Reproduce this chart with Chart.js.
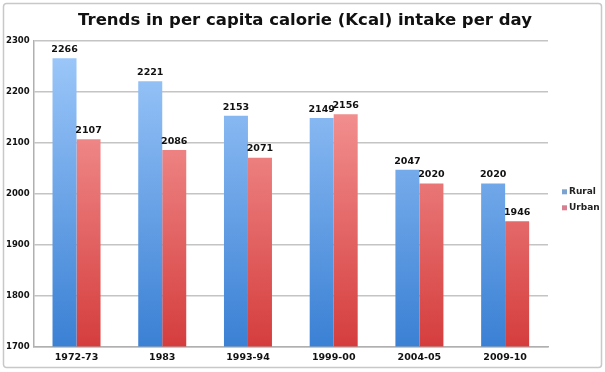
<!DOCTYPE html>
<html>
<head>
<meta charset="utf-8">
<script src="https://cdn.jsdelivr.net/npm/chart.js@4"></script>
<style>
  html, body { margin: 0; padding: 0; background: #fff; }
  #wrap { width: 605px; height: 372px; position: relative; }
</style>
</head>
<body>
<div id="wrap"><canvas id="chart"></canvas></div>
<script>
// data
const periods = ['1972-73', '1983', '1993-94', '1999-00', '2004-05', '2009-10']
const rural = [2266, 2221, 2153, 2149, 2047, 2020]
const urban = [2107, 2086, 2071, 2156, 2020, 1946]
const yTicks = [1700, 1800, 1900, 2000, 2100, 2200, 2300]

const titleText = 'Trends in per capita calorie (Kcal) intake per day'
const font = 'DejaVu Sans'
const legendMarks = ['#7aa3cf', '#d77f8e']

// vertical gradient over the chart area
const grad = (ctx, top, bottom) => {
  const chart = ctx.chart
  const area = chart.chartArea
  if (!area) return bottom
  const g = chart.ctx.createLinearGradient(0, area.top, 0, area.bottom)
  g.addColorStop(0, top)
  g.addColorStop(1, bottom)
  return g
}

// outer frame + title centred on the whole picture
const framePlugin = {
  id: 'frame',
  beforeDraw(chart) {
    const c = chart.ctx
    c.save()
    c.strokeStyle = '#c8c8c8'
    c.lineWidth = 1.5
    c.beginPath()
    c.roundRect(3.5, 3.5, chart.width - 7, chart.height - 8, 3)
    c.stroke()
    c.font = 'bold 16.5px ' + font
    c.fillStyle = '#111'
    c.textAlign = 'center'
    c.textBaseline = 'middle'
    c.fillText(titleText, 305, 21)
    c.restore()
  }
}

// values above bars
const valuePlugin = {
  id: 'values',
  afterDatasetsDraw(chart) {
    const c = chart.ctx
    c.save()
    c.font = 'bold 9.5px ' + font
    c.fillStyle = '#111'
    c.textAlign = 'center'
    c.textBaseline = 'bottom'
    chart.data.datasets.forEach((ds, i) => {
      chart.getDatasetMeta(i).data.forEach((bar, j) => {
        c.fillText(ds.data[j], bar.x, bar.y - 4)
      })
    })
    c.restore()
  }
}

// legend to the right of the plot
const legendPlugin = {
  id: 'sideLegend',
  afterDraw(chart) {
    const c = chart.ctx
    const area = chart.chartArea
    const x = area.right + 14
    const y0 = (area.top + area.bottom) / 2 - 2
    c.save()
    c.font = 'bold 9px ' + font
    c.textBaseline = 'middle'
    chart.data.datasets.forEach((ds, i) => {
      const y = y0 + i * 16
      c.fillStyle = legendMarks[i]
      c.fillRect(x, y - 2.5, 5, 5)
      c.fillStyle = '#222'
      c.fillText(ds.label, x + 7, y)
    })
    c.restore()
  }
}

new Chart(document.getElementById('chart'), {
  type: 'bar',
  data: {
    labels: periods,
    datasets: [
      {
        label: 'Rural',
        data: rural,
        backgroundColor: ctx => grad(ctx, '#a0cafb', '#3a80d4'),
        categoryPercentage: 0.56,
        barPercentage: 1
      },
      {
        label: 'Urban',
        data: urban,
        backgroundColor: ctx => grad(ctx, '#fba8a8', '#d53d3d'),
        categoryPercentage: 0.56,
        barPercentage: 1
      }
    ]
  },
  options: {
    responsive: true,
    maintainAspectRatio: false,
    animation: false,
    layout: { padding: { left: 2, right: 57, top: 41, bottom: 4 } },
    plugins: {
      title: { display: false },
      legend: { display: false },
      tooltip: { enabled: false }
    },
    scales: {
      x: {
        grid: { display: false, drawTicks: false },
        border: { color: '#b0b0b0', width: 1.5 },
        ticks: { color: '#111', font: { family: font, size: 9.5, weight: 'bold' }, padding: 5 }
      },
      y: {
        min: yTicks[0],
        max: yTicks[yTicks.length - 1],
        afterBuildTicks: axis => { axis.ticks = yTicks.map(v => ({ value: v })) },
        grid: { color: '#c4c4c4', lineWidth: 1.5, drawTicks: false },
        border: { color: '#b0b0b0', width: 1.5 },
        ticks: {
          color: '#111',
          font: { family: font, size: 8.5, weight: 'bold' },
          padding: 4,
          callback: v => String(v)
        }
      }
    }
  },
  plugins: [framePlugin, valuePlugin, legendPlugin]
})
</script>
</body>
</html>
